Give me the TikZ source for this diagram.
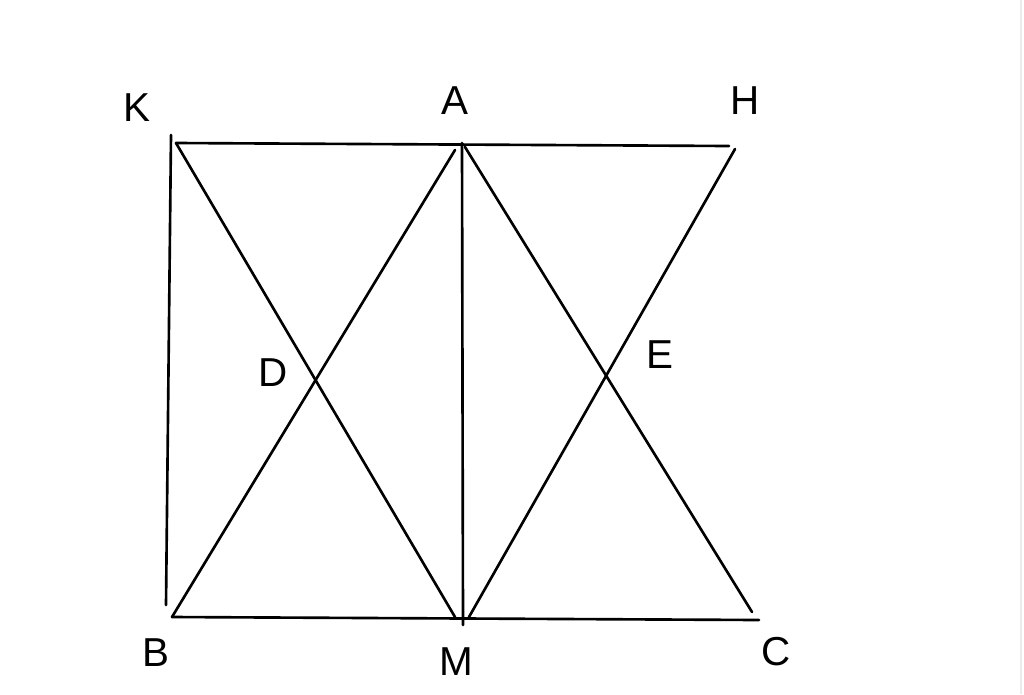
\documentclass[tikz,border=0pt]{standalone}
\usepackage{fontspec}
\setmainfont{Liberation Sans}
\begin{document}
\begin{tikzpicture}[x=0.02cm,y=-0.02cm]
\tikzset{seg/.style = {line width=1.5pt, line cap=round},
  lbl/.style = {font=\fontsize{23}{27}\selectfont, inner sep=0pt}}
\useasboundingbox (0,0) rectangle (1024,694);
\fill[white] (0,0) rectangle (1024,694);
\draw[black!8, line width=1.2pt] (1021,0) to (1021,694);
\coordinate (K) at (176,143);
\coordinate (H) at (729,146);
\coordinate (Kt) at (171,135);
\coordinate (Bt) at (166,605);
\coordinate (B) at (172,617);
\coordinate (C) at (759,620);
\coordinate (At) at (462,143);
\coordinate (Mb) at (463,625);
\coordinate (Al) at (455,150);
\coordinate (Ar) at (465,147);
\coordinate (Hr) at (735,149);
\coordinate (Ml) at (455,617);
\coordinate (Mr) at (469,617);
\coordinate (Cr) at (752,612);
\node[lbl] (lK) at (137,108) {K};
\node[lbl] (lA) at (455,101) {A};
\node[lbl] (lH) at (745,101) {H};
\node[lbl] (lB) at (156,653) {B};
\node[lbl] (lM) at (456,662) {M};
\node[lbl] (lC) at (776,652) {C};
\node[lbl] (lD) at (273,373) {D};
\node[lbl] (lE) at (660,355) {E};
\draw[seg] (K) to (H);
\draw[seg] (Kt) to (Bt);
\draw[seg] (B) to (C);
\draw[seg] (At) to (Mb);
\draw[seg] (K) to (Ml);
\draw[seg] (Al) to (B);
\draw[seg] (Ar) to (Cr);
\draw[seg] (Hr) to (Mr);
\end{tikzpicture}
\end{document}
